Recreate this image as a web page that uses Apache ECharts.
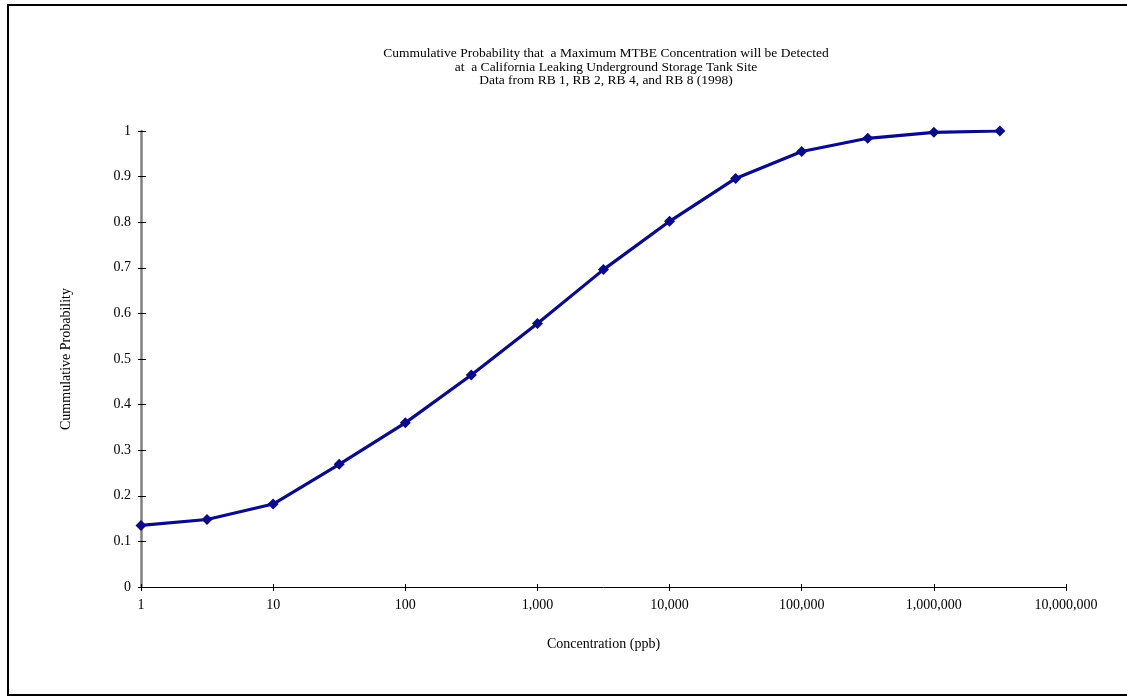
<!DOCTYPE html>
<html>
<head>
<meta charset="utf-8">
<script src="https://cdn.jsdelivr.net/npm/echarts@6/dist/echarts.min.js"></script>
<style>html,body{margin:0;padding:0;background:#fff;}#c{width:1127px;height:698px;}</style>
</head>
<body>
<div id="c"></div>
<script>
const titleLines = [
  'Cummulative Probability that  a Maximum MTBE Concentration will be Detected',
  'at  a California Leaking Underground Storage Tank Site',
  'Data from RB 1, RB 2, RB 4, and RB 8 (1998)'
];
const xName = 'Concentration (ppb)';
const yName = 'Cummulative Probability';
const concentrations = [1, 3.16, 10, 31.6, 100, 316, 1000, 3160, 10000, 31600, 100000, 316000, 1000000, 3160000];
const probabilities = [0.135, 0.148, 0.182, 0.269, 0.360, 0.465, 0.578, 0.696, 0.802, 0.896, 0.955, 0.984, 0.997, 1.0];

const font = 'Liberation Serif, Times New Roman, serif';
const chart = echarts.init(document.getElementById('c'));
const grid = {left: 141, right: 61, top: 131, bottom: 111};
const fmt = v => Math.round(v).toLocaleString('en-US');
chart.setOption({
  animation: false,
  backgroundColor: '#fff',
  title: {
    text: titleLines.join('\n'),
    left: 601, top: 42, textAlign: 'center',
    textStyle: {fontFamily: font, fontSize: 13.5, fontWeight: 'normal', color: '#000', lineHeight: 13.5}
  },
  graphic: [{
    type: 'rect', shape: {x: 8, y: 5, width: 1130, height: 690},
    style: {fill: 'none', stroke: '#000', lineWidth: 2}
  }],
  grid: grid,
  xAxis: [{
    type: 'log', logBase: 10, min: 1, max: 10000000,
    name: xName, nameLocation: 'middle', nameGap: 50,
    nameTextStyle: {fontFamily: font, fontSize: 14, color: '#000'},
    axisLine: {lineStyle: {color: '#000', width: 1}},
    axisTick: {inside: false, length: 4, lineStyle: {color: '#000'}},
    axisLabel: {fontFamily: font, fontSize: 14, color: '#000', margin: 11, formatter: fmt},
    splitLine: {show: false}, minorTick: {show: false}
  }, {
    type: 'log', logBase: 10, min: 1, max: 10000000, position: 'bottom',
    axisLine: {show: false},
    axisTick: {inside: true, length: 3, lineStyle: {color: '#000'}},
    axisLabel: {show: false}, splitLine: {show: false}
  }],
  yAxis: [{
    type: 'value', min: 0, max: 1, interval: 0.1,
    name: yName, nameLocation: 'middle', nameGap: 68,
    nameTextStyle: {fontFamily: font, fontSize: 14, color: '#000'},
    axisLine: {show: true, lineStyle: {color: '#808080', width: 2.5}},
    axisTick: {show: true, inside: true, length: 5, lineStyle: {color: '#000'}},
    axisLabel: {fontFamily: font, fontSize: 14, color: '#000', margin: 10,
      formatter: v => String(+v.toFixed(1))},
    splitLine: {show: false}
  }, {
    type: 'value', min: 0, max: 1, interval: 0.1, position: 'left',
    axisLine: {show: false},
    axisTick: {show: true, inside: false, length: 3, lineStyle: {color: '#000'}},
    axisLabel: {show: false}, splitLine: {show: false}
  }],
  series: [{
    type: 'line',
    data: concentrations.map((c, i) => [c, probabilities[i]]),
    symbol: 'diamond', symbolSize: 11,
    lineStyle: {color: '#0a0a8c', width: 3.2},
    itemStyle: {color: '#0a0a8c'},
    z: 5
  }]
});
</script>
</body>
</html>
